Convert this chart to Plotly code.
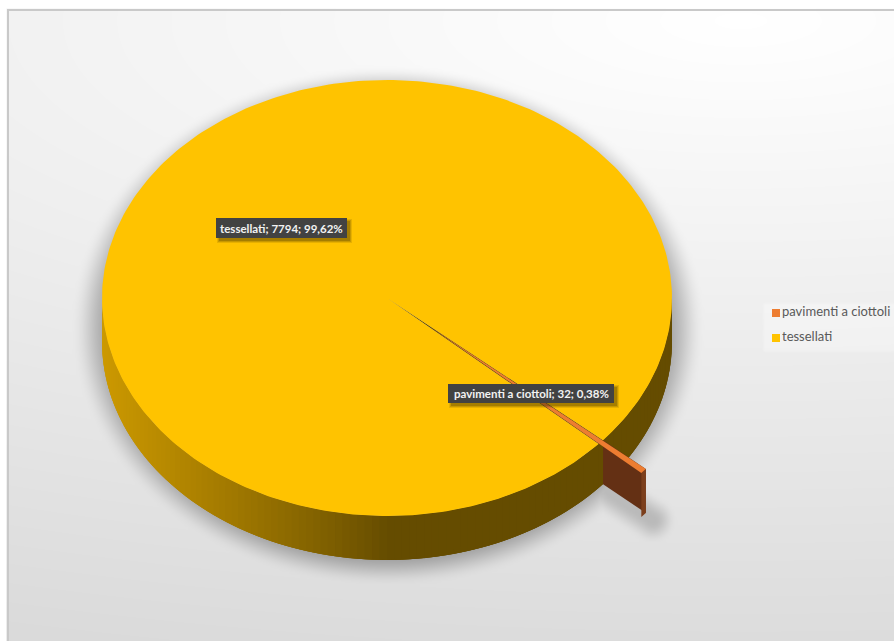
import numpy as np
import plotly.graph_objects as go

# Chart data
categories = ["pavimenti a ciottoli", "tessellati"]
counts = [32, 7794]
percent = [0.38, 99.62]
explode = [0.20, 0.0]
slice_colors = ["#ED7D31", "#FFC300"]

W, H = 894, 641
CX, CY, RX, RY = 387.0, 298.0, 285.0, 218.0
DEPTH = 44.0
FIRST_ANGLE = 40.7  # degrees, clockwise from the right-hand side


def rim(deg, k=1.0):
    a = np.radians(deg)
    return CX + k * RX * np.cos(a), CY + k * RY * np.sin(a)


def lerp_hex(c0, c1, t):
    a = [int(c0[i:i + 2], 16) for i in (1, 3, 5)]
    b = [int(c1[i:i + 2], 16) for i in (1, 3, 5)]
    return "rgb(%d,%d,%d)" % tuple(round(p + (q - p) * t) for p, q in zip(a, b))


# Slice angular spans follow from the percentages
spans = [p / 100 * 360 for p in percent]
a0 = FIRST_ANGLE
a1 = a0 + spans[0]
a2 = a1 + spans[1]
mid0 = (a0 + a1) / 2
off_x = explode[0] * RX * np.cos(np.radians(mid0))
off_y = explode[0] * RY * np.sin(np.radians(mid0))

# Backdrop: soft vertical/radial grey with the blurred drop shadow of the disc
gx = np.arange(8, W + 3, 3.0)
gy = np.arange(10, H + 3, 3.0)
XX, YY = np.meshgrid(gx, gy)
fall = np.sqrt(((XX - 740) / 1900) ** 2 + ((YY - 20) / 620) ** 2)
back = 255 - 35 * fall


def smooth(v):
    v = np.clip(v, 0, 1)
    return v * v * (3 - 2 * v)


rad = np.sqrt(((XX - CX) / 292) ** 2 + ((YY - 325) / 240) ** 2)
sd = (rad - 1) * 260
shadow = 1 - smooth((sd + 14) / 36)

# shadow cast by the detached wedge
px0, py0 = rim(a0)
sx0, sy0 = px0 + 4, py0 + DEPTH + 6
sx1, sy1 = px0 + off_x + 6, py0 + off_y + DEPTH + 6
ux, uy = sx1 - sx0, sy1 - sy0
tt = np.clip(((XX - sx0) * ux + (YY - sy0) * uy) / (ux * ux + uy * uy), 0, 1)
dist = np.hypot(XX - sx0 - tt * ux, YY - sy0 - tt * uy)
shadow = np.maximum(shadow, 0.6 * (1 - smooth((dist - 2) / 22)))

z = back * (1 - 0.30 * shadow)
z[(XX >= 762) & (YY >= 303) & (YY <= 351)] += 5

fig = go.Figure()
fig.add_trace(go.Heatmap(
    x=gx, y=gy, z=z, zmin=0, zmax=255, zsmooth="best", showscale=False,
    colorscale=[[0, "rgb(0,0,0)"], [1, "rgb(255,255,255)"]], hoverinfo="skip",
))


def poly(xs, ys, color):
    fig.add_trace(go.Scatter(
        x=list(xs), y=list(ys), mode="lines", fill="toself", fillcolor=color,
        line=dict(color=color, width=0), hoverinfo="skip", showlegend=False,
    ))


# Front wall of the disc, shaded left to right in narrow overlapping strips
steps = np.linspace(180, 0, 121)
for s0, s1 in zip(steps[:-1], steps[1:]):
    arc = np.linspace(s0, max(s1 - 3, 0), 6)
    x, y = rim(arc)
    xm = rim((s0 + s1) / 2)[0]
    t = np.clip((CX - xm) / RX, 0, 1)
    col = lerp_hex("#654C00", "#CC9900", t ** 0.9)
    poly(np.r_[x, x[::-1], x[0]], np.r_[y, y[::-1] + DEPTH, y[0]], col)

# Dark inner colour, visible only through the gap the wedge leaves behind
gap_x = [CX, rim(a0)[0], rim(a1)[0], CX]
gap_y = [CY, rim(a0)[1], rim(a1)[1], CY]
poly(gap_x, gap_y, "#5E4700")

# Top of the large slice
arc = np.linspace(a1, a2, 361)
x, y = rim(arc)
poly(np.r_[CX, x, CX], np.r_[CY, y, CY], slice_colors[1])

# Detached wedge: cut face, outer face, then its top
px, py = rim(a0)
poly([px, px + off_x, px + off_x, px, px],
     [py, py + off_y, py + off_y + DEPTH, py + DEPTH, py], "#643014")
arc = np.linspace(a0, a1, 6)
x, y = rim(arc)
x, y = x + off_x, y + off_y
poly(np.r_[x, x[::-1], x[0]], np.r_[y, y[::-1] + DEPTH, y[0]], "#7C3F1C")
poly(np.r_[CX + off_x, x, CX + off_x], np.r_[CY + off_y, y, CY + off_y], slice_colors[0])

# Key on the right
legend_y = [313, 338]
fig.add_trace(go.Scatter(
    x=[776, 776], y=legend_y, mode="markers+text", text=categories,
    textposition="middle right", textfont=dict(family="Lato", size=13, color="#595959"),
    marker=dict(symbol="square", size=8, color=slice_colors, line=dict(width=0)),
    hoverinfo="skip", showlegend=False,
))

# Data labels
label_boxes = [(448, 384, 614, 403), (216, 218, 347, 238)]
shapes = [dict(type="rect", xref="x", yref="y", x0=8, y0=10, x1=W + 20, y1=H + 20,
               line=dict(color="#C9C9C9", width=2), fillcolor="rgba(0,0,0,0)")]
annotations = []
for name, n, pct, (x0, y0, x1, y1) in zip(categories, counts, percent, label_boxes):
    for grow, alpha in ((2, 0.12), (1, 0.18), (0, 0.25)):
        shapes.append(dict(type="rect", xref="x", yref="y",
                           x0=x0 + 3 - grow, y0=y0 + 3 - grow, x1=x1 + 3 + grow, y1=y1 + 3 + grow,
                           line=dict(width=0), fillcolor=f"rgba(60,45,0,{alpha})"))
    shapes.append(dict(type="rect", xref="x", yref="y", x0=x0, y0=y0, x1=x1, y1=y1,
                       line=dict(width=0), fillcolor="#424242"))
    text = f"{name}; {n}; {str(pct).replace('.', ',')}%"
    annotations.append(dict(
        x=(x0 + x1) / 2, y=(y0 + y1) / 2, xref="x", yref="y", text=f"<b>{text}</b>",
        showarrow=False, font=dict(family="Lato", size=11.5, color="#F2F2F2"),
    ))

fig.update_layout(
    width=W, height=H, margin=dict(l=0, r=0, t=0, b=0), paper_bgcolor="white",
    plot_bgcolor="white", showlegend=False, shapes=shapes, annotations=annotations,
    xaxis=dict(range=[0, W], visible=False, fixedrange=True),
    yaxis=dict(range=[H, 0], visible=False, fixedrange=True),
)
fig.write_html("out.html", config=dict(displayModeBar=False))
